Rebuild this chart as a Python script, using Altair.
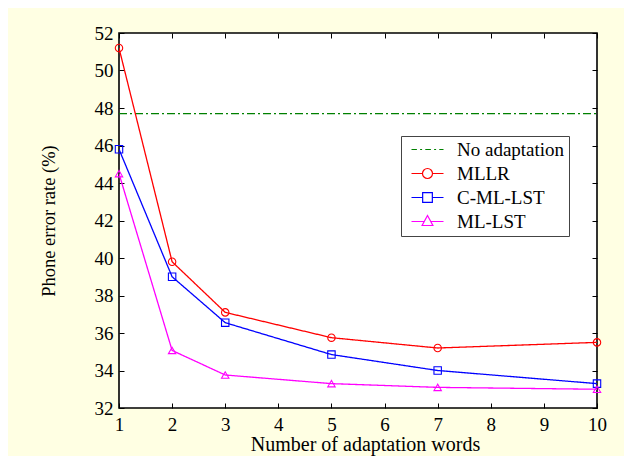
import altair as alt
import pandas as pd

# ---- data ----
x_words = [1, 2, 3, 5, 7, 10]
mllr = [51.2, 39.8, 37.1, 35.75, 35.2, 35.5]
c_ml_lst = [45.8, 39.0, 36.55, 34.85, 34.0, 33.3]
ml_lst = [44.5, 35.07, 33.76, 33.3, 33.1, 33.0]
no_adapt_x = [1, 10]
no_adapt = [47.7, 47.7]

series_names = ["No adaptation", "MLLR", "C-ML-LST", "ML-LST"]
series_colors = ["#008000", "#FF0000", "#0000FF", "#FF00FF"]
marker_series = ["MLLR", "C-ML-LST", "ML-LST"]
marker_colors = ["#FF0000", "#0000FF", "#FF00FF"]
marker_shapes = ["circle", "square", "triangle-up"]
dash_styles = [[8, 3, 2, 3], [1, 0], [1, 0], [1, 0]]

x_ticks = list(range(1, 11))
y_ticks = list(range(32, 53, 2))

# legend symbols: line segment + marker (custom SVG paths)
legend_paths = [
    "M-0.375,0H0.3M0.7,0H0.95M1.35,0H2.05M2.45,0H2.7M3.1,0H3.625",
    "M-0.375,0H1M2.25,0H3.625M2.25,0A0.625,0.625,0,1,1,1,0A0.625,0.625,0,1,1,2.25,0",
    "M-0.375,0H1.02M2.23,0H3.625M1.02,-0.6H2.23V0.6H1.02Z",
    "M-0.375,0H1.25M2,0H3.625M1.625,-0.75L2.3,0.5H0.95Z",
]

FONT = "Liberation Serif"

rows = []
for name, ys, xs in [
    ("No adaptation", no_adapt, no_adapt_x),
    ("MLLR", mllr, x_words),
    ("C-ML-LST", c_ml_lst, x_words),
    ("ML-LST", ml_lst, x_words),
]:
    for xv, yv in zip(xs, ys):
        rows.append({"series": name, "words": xv, "per": yv})
df = pd.DataFrame(rows)

xscale = alt.Scale(domain=[1, 10], nice=False, zero=False)
yscale = alt.Scale(domain=[32, 52], nice=False, zero=False)

common_axis = dict(
    domain=False, grid=False, tickSize=5, offset=-5, tickColor="black",
    tickWidth=1, labelFont=FONT, labelFontSize=19, labelColor="black",
    labelFlush=False, titleFont=FONT, titleFontWeight="normal",
    titleColor="black", titleAlign="center",
)

x_bottom = alt.Axis(
    values=x_ticks, orient="bottom", format="d", labelPadding=7,
    title="Number of adaptation words", titleX=246, titleY=47,
    titleFontSize=20, titleBaseline="alphabetic", **common_axis,
)
y_left = alt.Axis(
    values=y_ticks, orient="left", format="d", labelPadding=6,
    title="Phone error rate (%)", titleX=-76, titleY=187.5,
    titleFontSize=18.5, titleBaseline="middle", **common_axis,
)
x_top = alt.Axis(values=x_ticks, orient="top", labels=False, title=None,
                 domain=False, grid=False, tickSize=5, offset=-5, tickColor="black")
y_right = alt.Axis(values=y_ticks, orient="right", labels=False, title=None,
                   domain=False, grid=False, tickSize=5, offset=-5, tickColor="black")

lines = alt.Chart(df).mark_line(strokeWidth=1.3, clip=True).encode(
    x=alt.X("words:Q", scale=xscale, axis=x_bottom),
    y=alt.Y("per:Q", scale=yscale, axis=y_left),
    color=alt.Color("series:N", scale=alt.Scale(domain=series_names, range=series_colors), legend=None),
    strokeDash=alt.StrokeDash("series:N", scale=alt.Scale(domain=series_names, range=dash_styles), legend=None),
    detail="series:N",
)

points = alt.Chart(df).transform_filter(
    "datum.series != 'No adaptation'"
).mark_point(filled=False, size=55, strokeWidth=1.1, opacity=1).encode(
    x=alt.X("words:Q", scale=xscale, axis=x_top),
    y=alt.Y("per:Q", scale=yscale, axis=y_right),
    color=alt.Color("series:N", scale=alt.Scale(domain=marker_series, range=marker_colors), legend=None),
    shape=alt.Shape("series:N", scale=alt.Scale(domain=marker_series, range=marker_shapes), legend=None),
)

legend_layer = alt.Chart(df).transform_filter("false").mark_point(
    filled=False, opacity=1, strokeWidth=1.2
).encode(
    x=alt.X("words:Q", scale=xscale, axis=None),
    y=alt.Y("per:Q", scale=yscale, axis=None),
    color=alt.Color("series:N", scale=alt.Scale(domain=series_names, range=series_colors)),
    shape=alt.Shape(
        "series:N",
        scale=alt.Scale(domain=series_names, range=legend_paths),
        legend=alt.Legend(
            orient="none", legendX=282, legendY=103, title=None,
            padding=4, rowPadding=4, labelOffset=33, symbolSize=256,
            symbolStrokeWidth=1.2, fillColor="white", strokeColor="#444444",
            labelFont=FONT, labelFontSize=19, labelColor="black",
            labelExpr="datum.label + '\u2002\u2002\u2005'",
        ),
    ),
)

chart = alt.layer(lines, points, legend_layer).resolve_scale(
    color="independent", shape="independent", strokeDash="independent"
).resolve_axis(
    x="independent", y="independent"
).properties(
    width=478, height=375,
    autosize=alt.AutoSizeParams(type="none"),
    padding={"left": 111, "top": 25, "right": 27, "bottom": 47.5},
    background="#FFFFE3",
).configure_view(
    fill="white", stroke="black", strokeWidth=1.6
)

chart.save("out.html", embed_options={"renderer": "svg", "actions": False})
